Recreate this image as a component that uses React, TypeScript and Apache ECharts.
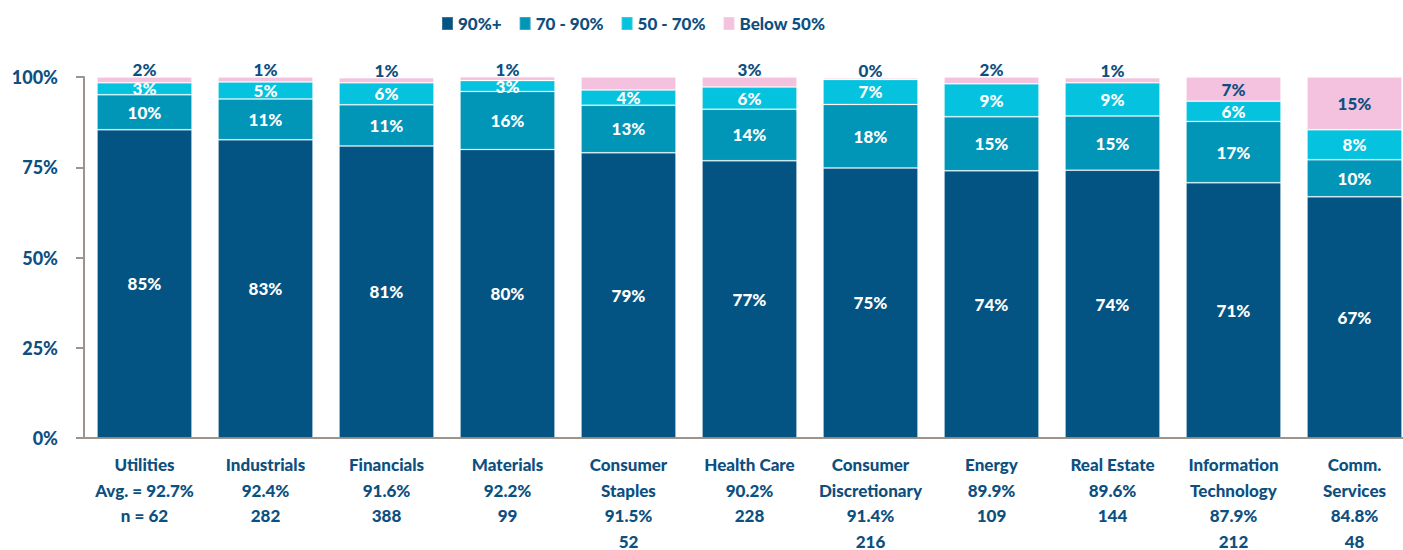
import React, { useEffect, useRef } from "react";
import * as echarts from "echarts";

const sectors = [
  "Utilities",
  "Industrials",
  "Financials",
  "Materials",
  "Consumer\nStaples",
  "Health Care",
  "Consumer\nDiscretionary",
  "Energy",
  "Real Estate",
  "Information\nTechnology",
  "Comm.\nServices",
];
const averages = ["92.7%", "92.4%", "91.6%", "92.2%", "91.5%", "90.2%", "91.4%", "89.9%", "89.6%", "87.9%", "84.8%"];
const counts = ["62", "282", "388", "99", "52", "228", "216", "109", "144", "212", "48"];

const seriesNames = ["90%+", "70 - 90%", "50 - 70%", "Below 50%"];
const above90 = [85.4, 82.6, 80.9, 79.9, 79.0, 76.8, 74.8, 74.0, 74.2, 70.7, 66.8];
const from70to90 = [9.7, 11.3, 11.4, 16.1, 13.2, 14.3, 17.6, 15.0, 15.0, 17.0, 10.3];
const from50to70 = [3.3, 4.7, 6.1, 3.0, 4.2, 6.1, 6.9, 9.1, 9.2, 5.6, 8.3];
const below50 = [1.6, 1.4, 1.4, 1.1, 3.6, 2.8, 0.4, 1.9, 1.4, 6.7, 14.6];
const hiddenLabelIndex = 4; // Consumer Staples "Below 50%" label not shown

const yTicks = [0, 25, 50, 75, 100];

const colors = ["#035483", "#0195b8", "#05c2de", "#f4c1de"];
const textColor = "#0d4f7f";
const axisColor = "#9d958c";
const FONT = "Lato, 'Open Sans', sans-serif";

export default function App() {
  const ref = useRef<HTMLDivElement>(null);

  useEffect(() => {
    if (!ref.current) return;
    const chart = echarts.init(ref.current, null, { renderer: "svg" });

    const labelText = sectors.map(
      (s, i) => `${s}\n${i === 0 ? "Avg. = " : ""}${averages[i]}\n${i === 0 ? "n = " : ""}${counts[i]}`
    );

    const fmt = (p: any) => `${Math.round(p.value)}%`;
    const baseLabel = {
      show: true,
      position: "inside",
      formatter: fmt,
      color: "#ffffff",
      fontFamily: FONT,
      fontWeight: 900,
      fontSize: 17,
    };

    const mk = (name: string, values: number[], color: string, labelOverride?: (v: number, i: number) => any) => ({
      name,
      type: "bar",
      stack: "total",
      barCategoryGap: "21.5%",
      itemStyle: { color, borderColor: "rgba(255,255,255,0.2)", borderWidth: 1 },
      label: baseLabel,
      data: values.map((v, i) => (labelOverride ? { value: v, label: labelOverride(v, i) } : v)),
    });

    const pinkLabel = (v: number, i: number) => {
      if (i === hiddenLabelIndex) return { show: false };
      if (v < 4) return { show: true, position: "top", distance: -1, color: textColor };
      return { show: true, position: "inside", color: textColor };
    };

    chart.setOption({
      animation: false,
      backgroundColor: "#ffffff",
      color: colors,
      legend: {
        top: 10,
        left: 436,
        itemWidth: 11,
        itemHeight: 13,
        itemGap: 17,
        icon: "rect",
        textStyle: { color: textColor, fontFamily: FONT, fontWeight: 900, fontSize: 17 },
        data: seriesNames,
      },
      grid: {
        left: 84,
        right: -12,
        top: 77,
        bottom: 112,
        containLabel: false,
        outerBoundsMode: "none",
      },
      xAxis: {
        type: "category",
        data: labelText,
        axisLine: { show: true, lineStyle: { color: axisColor, width: 2 } },
        axisTick: { show: false },
        axisLabel: {
          interval: 0,
          margin: 14,
          color: textColor,
          fontFamily: FONT,
          fontWeight: 900,
          fontSize: 17,
          lineHeight: 25.5,
        },
      },
      yAxis: {
        type: "value",
        min: yTicks[0],
        max: yTicks[yTicks.length - 1],
        interval: 25,
        axisLine: { show: true, lineStyle: { color: axisColor, width: 2 } },
        axisTick: { show: true, inside: false, length: 8, lineStyle: { color: axisColor, width: 2 } },
        splitLine: { show: false },
        axisLabel: {
          margin: 26,
          color: textColor,
          fontFamily: FONT,
          fontWeight: 900,
          fontSize: 18,
          formatter: (v: number) => `${v}%`,
        },
      },
      series: [
        mk(seriesNames[0], above90, colors[0]),
        mk(seriesNames[1], from70to90, colors[1]),
        mk(seriesNames[2], from50to70, colors[2]),
        mk(seriesNames[3], below50, colors[3], pinkLabel),
      ],
    });

    return () => chart.dispose();
  }, []);

  return (
    <div
      ref={ref}
      style={{ position: "fixed", left: 0, top: 0, width: 1403, height: 550, background: "#fff" }}
    />
  );
}
